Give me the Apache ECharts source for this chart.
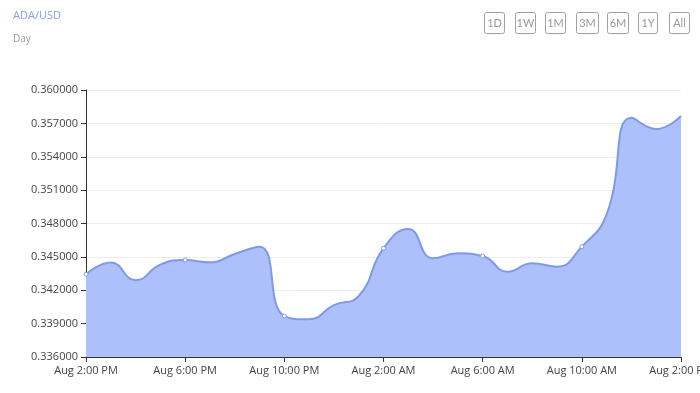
<!DOCTYPE html>
<html>
<head>
<meta charset="utf-8">
<script src="https://cdn.jsdelivr.net/npm/echarts@6/dist/echarts.min.js"></script>
<style>
html,body{margin:0;padding:0;background:#fff;}
#chart{width:700px;height:393px;}
</style>
</head>
<body>
<div id="chart"></div>
<script>
const titleText = "ADA/USD";
const subtitleText = "Day";
const rangeButtons = ["1D", "1W", "1M", "3M", "6M", "1Y", "All"];
const categories = [
  "Aug 2:00 PM", "Aug 3:00 PM", "Aug 4:00 PM", "Aug 5:00 PM", "Aug 6:00 PM",
  "Aug 7:00 PM", "Aug 8:00 PM", "Aug 9:00 PM", "Aug 10:00 PM", "Aug 11:00 PM",
  "Aug 12:00 AM", "Aug 1:00 AM", "Aug 2:00 AM", "Aug 3:00 AM", "Aug 4:00 AM",
  "Aug 5:00 AM", "Aug 6:00 AM", "Aug 7:00 AM", "Aug 8:00 AM", "Aug 9:00 AM",
  "Aug 10:00 AM", "Aug 11:00 AM", "Aug 12:00 PM", "Aug 1:00 PM", "Aug 2:00 PM"
];
const prices = [
  0.34344, 0.34450, 0.34290, 0.34430, 0.34472,
  0.34451, 0.34526, 0.34592, 0.33968, 0.33939,
  0.34067, 0.34148, 0.34577, 0.34751, 0.34488,
  0.34532, 0.34508, 0.34367, 0.34443, 0.34412,
  0.34592, 0.34882, 0.35750, 0.35650, 0.35766
];
const yMin = 0.336, yMax = 0.360, yStep = 0.003;

const chart = echarts.init(document.getElementById('chart'), null, {renderer: 'canvas'});

const btnX = [484, 515, 545, 576, 607, 638, 669];
const btnW = [20, 20, 20, 22, 21, 19, 20];
const graphics = [
  {type: 'text', left: 13, top: 10, style: {text: titleText, fill: '#8a9ee6', font: '11px "Open Sans", sans-serif'}},
  {type: 'text', left: 13, top: 34, style: {text: subtitleText, fill: '#9a9a9a', font: '10px "Open Sans", sans-serif'}}
];
rangeButtons.forEach((b, i) => {
  graphics.push({
    type: 'group', left: btnX[i], top: 12,
    children: [
      {type: 'rect', shape: {x: 0, y: 0, width: btnW[i], height: 21, r: 2}, style: {fill: '#fff', stroke: '#a0a0a0', lineWidth: 1}},
      {type: 'text', style: {text: b, x: btnW[i] / 2, y: 11, textAlign: 'center', textVerticalAlign: 'middle', fill: '#999', font: '11px Lato, sans-serif'}}
    ]
  });
});

const lastIdx = prices.length - 1;
const seriesData = prices.map((v, i) => i === lastIdx ? {value: v, symbol: 'none'} : v);

chart.setOption({
  animation: false,
  backgroundColor: '#fff',
  grid: {left: 86, right: 19, top: 90, bottom: 36, containLabel: false, outerBoundsMode: 'none'},
  graphic: graphics,
  xAxis: {
    type: 'category',
    data: categories,
    boundaryGap: false,
    axisLine: {lineStyle: {color: '#333', width: 1}},
    axisTick: {interval: 3, length: 5, lineStyle: {color: '#333'}},
    axisLabel: {interval: 3, color: '#444', fontSize: 11, fontFamily: '"Open Sans", sans-serif', margin: 8, hideOverlap: false},
    splitLine: {show: false}
  },
  yAxis: {
    type: 'value',
    min: yMin, max: yMax, interval: yStep,
    axisLine: {show: true, lineStyle: {color: '#333', width: 1}},
    axisTick: {show: true, length: 5, lineStyle: {color: '#333'}},
    axisLabel: {color: '#444', fontSize: 11, fontFamily: '"Open Sans", sans-serif', margin: 8,
      formatter: v => v.toFixed(6)},
    splitLine: {show: true, lineStyle: {color: '#ececec', width: 1}}
  },
  series: [{
    type: 'line',
    data: seriesData,
    smooth: true,
    showSymbol: true,
    showAllSymbol: false,
    symbol: 'circle',
    symbolSize: 4,
    itemStyle: {color: '#fff', borderColor: '#7f99ea', borderWidth: 1},
    lineStyle: {color: '#7f99ea', width: 2},
    areaStyle: {color: '#adc0fb', opacity: 1}
  }]
});
</script>
</body>
</html>
